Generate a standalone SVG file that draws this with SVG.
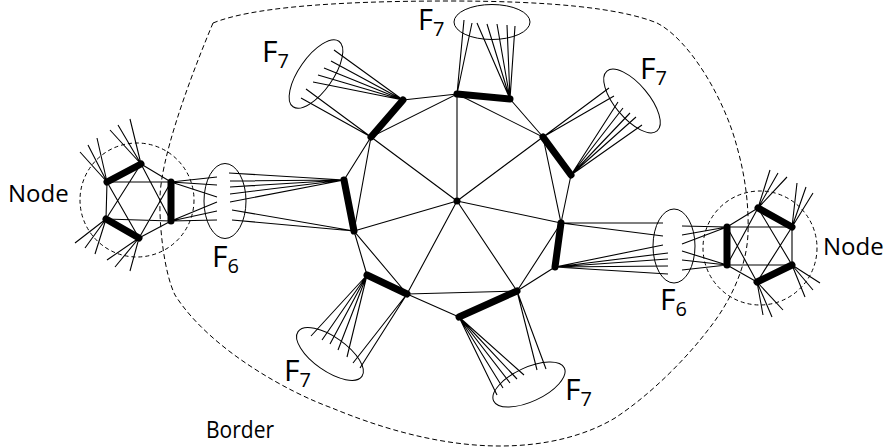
<svg xmlns="http://www.w3.org/2000/svg" width="890" height="447" viewBox="0 0 890 447">
<style>
  .thin{fill:none;stroke:#000;stroke-width:1.1}
  .bold{fill:none;stroke:#000;stroke-width:7;stroke-linecap:round}
  .ell{fill:none;stroke:#000;stroke-width:1}
  .dash{fill:none;stroke:#000;stroke-width:1;stroke-dasharray:5 3}
  .lbl{font-family:"Open Sans","Liberation Sans",sans-serif;fill:#000}
  .big{font-size:30px}
  .sub{font-size:20px}
  .name{font-size:24px}
</style>
<rect width="890" height="447" fill="#fff"/>

<!-- outer border region -->
<g id="border">
  <path class="dash" d="M213,23 C250,8 330,1 450,1 C550,1 620,8 657,23 C690,40 725,100 737,147 C745,175 749,205 748,233 C747,265 732,300 708,330 C685,360 650,395 615,418 C585,436 545,446 500,446 C440,446 380,428 332,408 C290,393 210,350 175,295 C165,275 159,230 160,197 C161,160 185,90 213,23 Z"/>
  <text class="lbl name" x="206" y="438" textLength="68" lengthAdjust="spacingAndGlyphs">Border</text>
</g>

<!-- all connecting edges -->
<g id="edges">
  <!-- hub spokes -->
  <path class="thin" d="M457,201 L457,94 M457,201 L543,137 M457,201 L561,223 M457,201 L517,291 M457,201 L407,294 M457,201 L354,231 M457,201 L371,137"/>
  <!-- inner heptagon -->
  <path class="thin" d="M457,94 L543,137 L561,223 L517,291 L407,294 L354,231 L371,137 Z"/>
  <!-- outer ring links between pairs -->
  <path class="thin" d="M510,99 L543,137 M571,175 L561,223 M555,267 L517,291 M459,317 L407,294 M367,275 L354,231 M344,180 L371,137 M403,100 L457,94"/>

  <!-- fans into the F7 / F6 sets -->
  <path class="thin" d="M457,94 L464,20 M457,94 L472,23 M510,99 L477,23 M510,99 L487,24 M510,99 L497,24 M510,99 L507,25 M510,99 L515,26"/>
  <path class="thin" d="M543,137 L609,88 M543,137 L614,96 M571,175 L618,102 M571,175 L623,108 M571,175 L630,113 M571,175 L636,117 M571,175 L642,125"/>
  <path class="thin" d="M561,223 L663,223 M561,223 L663,236 M555,267 L663,245 M555,267 L668,253 M555,267 L668,259 M555,267 L668,266 M555,267 L668,274"/>
  <path class="thin" d="M517,291 L537,370 M517,291 L546,369 M459,317 L497,395 M459,317 L503,388 M459,317 L510,383 M459,317 L517,379 M459,317 L524,375"/>
  <path class="thin" d="M407,294 L353,363 M407,294 L360,368 M367,275 L311,336 M367,275 L322,340 M367,275 L330,344 M367,275 L338,350 M367,275 L347,357"/>
  <path class="thin" d="M354,231 L232,210 M354,231 L232,220 M344,180 L229,173 M344,180 L230,181 M344,180 L230,187 M344,180 L230,194 M344,180 L230,202"/>
  <path class="thin" d="M371,137 L306,89 M371,137 L301,98 M403,100 L334,50 M403,100 L331,61 M403,100 L324,68 M403,100 L318,75 M403,100 L313,82"/>

  <!-- node gadgets into the F6 sets -->
  <path class="thin" d="M171,182 L217,177 M171,182 L217,185 M171,182 L217,197 M171,221 L217,202 M171,221 L217,211 M171,221 L217,220"/>
  <path class="thin" d="M727,227 L682,226 M727,227 L682,235 M727,227 L682,244 M727,265 L682,251 M727,265 L682,260 M727,265 L682,270"/>
</g>

<!-- central hub -->
<g id="hub">
  <circle cx="457" cy="201" r="3.5" fill="#000"/>
</g>

<!-- heptagon pairs (heavy edges) -->
<g id="pair-a"><line class="bold" x1="457" y1="94" x2="510" y2="99"/></g>
<g id="pair-b"><line class="bold" x1="543" y1="137" x2="571" y2="175"/></g>
<g id="pair-c"><line class="bold" x1="561" y1="223" x2="555" y2="267"/></g>
<g id="pair-d"><line class="bold" x1="517" y1="291" x2="459" y2="317"/></g>
<g id="pair-e"><line class="bold" x1="407" y1="294" x2="367" y2="275"/></g>
<g id="pair-f"><line class="bold" x1="354" y1="231" x2="344" y2="180"/></g>
<g id="pair-g"><line class="bold" x1="371" y1="137" x2="403" y2="100"/></g>

<!-- F7 sets -->
<g id="f7-top">
  <ellipse class="ell" cx="492" cy="22" rx="38" ry="17.5"/>
  <text class="lbl" x="418" y="30" font-size="29">F<tspan class="sub" dy="6">7</tspan></text>
</g>
<g id="f7-upper-left">
  <ellipse class="ell" cx="316" cy="74" rx="40" ry="17" transform="rotate(-55 316 74)"/>
  <text class="lbl big" x="262" y="62">F<tspan class="sub" dy="6">7</tspan></text>
</g>
<g id="f7-upper-right">
  <ellipse class="ell" cx="632" cy="101" rx="39" ry="17" transform="rotate(50 632 101)"/>
  <text class="lbl big" x="640" y="79">F<tspan class="sub" dy="6">7</tspan></text>
</g>
<g id="f7-lower-left">
  <ellipse class="ell" cx="330" cy="354" rx="39" ry="17" transform="rotate(35 330 354)"/>
  <text class="lbl big" x="284" y="381">F<tspan class="sub" dy="6">7</tspan></text>
</g>
<g id="f7-bottom">
  <ellipse class="ell" cx="529" cy="384.5" rx="39" ry="17" transform="rotate(-25 529 384.5)"/>
  <text class="lbl big" x="565" y="400">F<tspan class="sub" dy="6">7</tspan></text>
</g>

<!-- F6 sets -->
<g id="f6-left">
  <ellipse class="ell" cx="225" cy="201" rx="21" ry="37.5"/>
  <text class="lbl big" x="212" y="267">F<tspan class="sub" dy="6">6</tspan></text>
</g>
<g id="f6-right">
  <ellipse class="ell" cx="674" cy="246" rx="21" ry="37"/>
  <text class="lbl big" x="660" y="310">F<tspan class="sub" dy="6">6</tspan></text>
</g>

<!-- left node gadget -->
<g id="node-left">
  <circle class="dash" cx="137" cy="200" r="57" style="stroke-dasharray:4 3"/>
  <path class="thin" d="M107,182 L171,182 M106,219 L171,221 M107,182 L106,219 M141,164 L171,182 M139,238 L171,221 M141,164 L106,219 M107,182 L139,238 M141,164 L171,221 M139,238 L171,182"/>
  <path class="thin" d="M141,164 L110,130 M141,164 L118,125 M141,164 L130,119 M107,182 L80,152 M107,182 L88,145 M107,182 L97,138 M106,219 L75,243 M106,219 L85,248 M106,219 L95,254 M139,238 L107,260 M139,238 L115,267 M139,238 L130,271"/>
  <line class="bold" x1="141" y1="164" x2="107" y2="182"/>
  <line class="bold" x1="106" y1="219" x2="139" y2="238"/>
  <line class="bold" x1="171" y1="182" x2="171" y2="221"/>
  <text class="lbl name" x="8" y="202">Node</text>
</g>

<!-- right node gadget -->
<g id="node-right">
  <circle class="dash" cx="760" cy="248" r="57" style="stroke-dasharray:4 3"/>
  <path class="thin" d="M727,227 L792,227 M727,265 L792,265 M792,227 L792,265 M758,208 L727,227 M757,282 L727,265 M758,208 L727,265 M757,282 L727,227 M758,208 L792,265 M757,282 L792,227"/>
  <path class="thin" d="M758,208 L770,170 M758,208 L778,173 M758,208 L787,177 M792,227 L797,183 M792,227 L806,187 M792,227 L813,193 M792,265 L805,297 M792,265 L813,290 M792,265 L820,283 M757,282 L763,315 M757,282 L772,317 M757,282 L783,310"/>
  <line class="bold" x1="758" y1="208" x2="792" y2="227"/>
  <line class="bold" x1="792" y1="265" x2="757" y2="282"/>
  <line class="bold" x1="727" y1="227" x2="727" y2="265"/>
  <text class="lbl name" x="823" y="255">Node</text>
</g>
</svg>
